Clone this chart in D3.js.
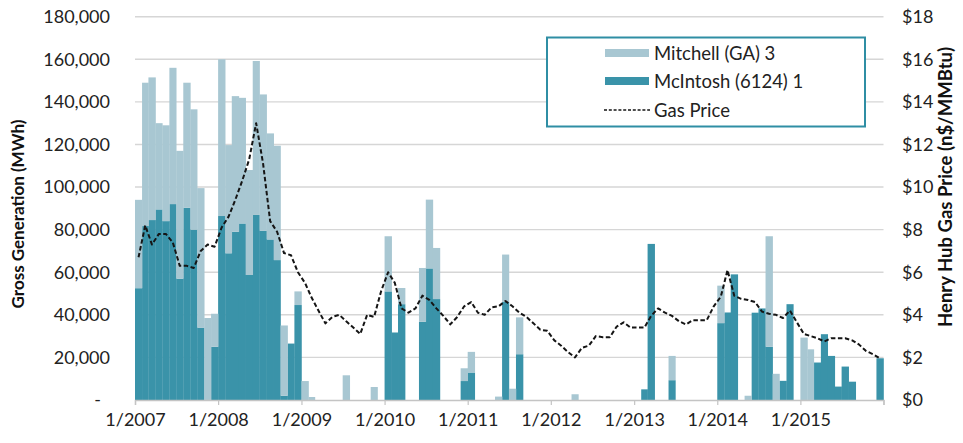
<!DOCTYPE html>
<html>
<head>
<meta charset="utf-8">
<script src="https://cdn.jsdelivr.net/npm/d3@7"></script>
<style>
  html, body { margin: 0; padding: 0; background: #fff; }
  svg { display: block; font-family: Lato, "Open Sans", sans-serif; }
</style>
</head>
<body>
<svg id="chart" width="963" height="443"></svg>
<script>
// Monthly values, Jan 2007 – Dec 2015 (one row per year)
const years = [2007, 2008, 2009, 2010, 2011, 2012, 2013, 2014, 2015];

// McIntosh (6124) 1 gross generation, MWh
const mcintosh = [
  52500, 81700, 84500, 89500, 84000, 92000, 57000, 90300, 80000, 34000, 0, 25000,
  86400, 68900, 79000, 82900, 58700, 86900, 79500, 75400, 65700, 2000, 26500, 44600,
  0, 0, 0, 0, 0, 0, 0, 0, 0, 0, 0, 0,
  51000, 31700, 45000, 0, 0, 36700, 61800, 47400, 0, 0, 0, 8900,
  12900, 0, 0, 0, 0, 46100, 0, 21500, 0, 0, 0, 0,
  0, 0, 0, 0, 0, 0, 0, 0, 0, 0, 0, 0,
  0, 5000, 73300, 0, 0, 9300, 0, 0, 0, 0, 0, 0,
  36100, 41100, 59000, 0, 0, 41000, 43000, 25000, 0, 9000, 45000, 0,
  0, 0, 17600, 30900, 20700, 6300, 15700, 8600, 0, 0, 0, 19600
];

// Mitchell (GA) 3 gross generation, MWh
const mitchell = [
  41500, 67300, 67000, 40500, 45000, 64000, 60000, 58700, 56500, 65500, 38500, 15500,
  73600, 50800, 63700, 59000, 49300, 72300, 64000, 49800, 53700, 33000, 0, 6400,
  8900, 1400, 0, 0, 0, 0, 11600, 0, 0, 0, 6100, 0,
  25900, 0, 7600, 0, 0, 25300, 32300, 24000, 0, 0, 0, 6000,
  9700, 0, 0, 0, 1600, 22200, 5300, 17300, 0, 0, 0, 0,
  0, 0, 0, 2700, 0, 0, 0, 0, 0, 0, 0, 0,
  0, 0, 0, 0, 0, 11400, 0, 0, 0, 0, 0, 0,
  17600, 0, 0, 0, 2000, 0, 0, 51900, 12300, 0, 0, 0,
  29300, 23800, 0, 0, 0, 0, 0, 0, 0, 0, 0, 0
];

// Henry Hub gas price, nominal $/MMBtu
const gasPrice = [
  6.7, 8.2, 7.3, 7.8, 7.8, 7.4, 6.3, 6.3, 6.2, 7.0, 7.3, 7.2,
  8.1, 8.6, 9.4, 10.3, 11.3, 13.0, 11.1, 8.4, 7.9, 6.9, 6.8, 6.0,
  5.5, 4.8, 4.2, 3.6, 3.9, 4.0, 3.7, 3.4, 3.1, 4.0, 3.9, 5.1,
  6.0, 5.5, 4.3, 4.1, 4.3, 4.9, 4.7, 4.3, 3.95, 3.55, 3.9, 4.4,
  4.6, 4.1, 4.0, 4.35, 4.4, 4.65, 4.4, 4.1, 3.9, 3.6, 3.3, 3.25,
  2.8, 2.55, 2.25, 2.0, 2.45, 2.55, 3.0, 2.95, 2.95, 3.45, 3.65, 3.4,
  3.4, 3.4, 3.95, 4.3, 4.1, 3.95, 3.7, 3.55, 3.75, 3.75, 3.75, 4.4,
  4.85, 6.1, 4.9, 4.75, 4.7, 4.6, 4.15, 4.05, 4.0, 3.85, 4.2, 3.65,
  3.1, 3.0, 2.9, 2.75, 2.9, 2.9, 2.9, 2.8, 2.6, 2.3, 2.15, 1.95
];

const genTicks = [0, 20000, 40000, 60000, 80000, 100000, 120000, 140000, 160000, 180000];
const priceTicks = [0, 2, 4, 6, 8, 10, 12, 14, 16, 18];
const seriesNames = ["Mitchell (GA) 3", "McIntosh (6124) 1", "Gas Price"];

const colors = { mitchell: "#a8c7d2", mcintosh: "#3a93a9", legendBorder: "#2f8ea4" };

// Build the monthly table
const months = d3.range(mcintosh.length).map(i => ({
  date: new Date(years[0], i, 1),
  end: new Date(years[0], i + 1, 1),
  mcintosh: mcintosh[i],
  mitchell: mitchell[i],
  price: gasPrice[i]
}));

const svg = d3.select("#chart");
const plot = { left: 135, right: 883.5, top: 16.7, bottom: 400 };

const x = d3.scaleTime()
  .domain([new Date(years[0], 0, 1), new Date(years[years.length - 1] + 1, 0, 1)])
  .range([plot.left, plot.right]);
const yGen = d3.scaleLinear().domain([0, 180000]).range([plot.bottom, plot.top]);
const yPrice = d3.scaleLinear().domain([0, 18]).range([plot.bottom, plot.top]);

// Horizontal gridlines
svg.append("g")
  .selectAll("line")
  .data(genTicks.slice(1))
  .join("line")
  .attr("x1", plot.left).attr("x2", plot.right)
  .attr("y1", d => yGen(d)).attr("y2", d => yGen(d))
  .attr("stroke", "#d6d6d6").attr("stroke-width", 1.4);

// Stacked bars: McIntosh at the base, Mitchell on top
const stack = d3.stack().keys(["mcintosh", "mitchell"]);
const layers = stack(months);
svg.append("g")
  .selectAll("g")
  .data(layers)
  .join("g")
  .attr("fill", d => colors[d.key])
  .selectAll("rect")
  .data(d => d.filter(s => s[1] > s[0]))
  .join("rect")
  .attr("x", d => x(d.data.date))
  .attr("width", d => x(d.data.end) - x(d.data.date) + 0.3)
  .attr("y", d => yGen(d[1]))
  .attr("height", d => yGen(d[0]) - yGen(d[1]));

// Bottom axis
const xAxis = d3.axisBottom(x)
  .tickValues(d3.range(years[0], years[years.length - 1] + 2).map(yy => new Date(yy, 0, 1)))
  .tickSize(5)
  .tickPadding(8)
  .tickFormat(d => d.getFullYear() <= years[years.length - 1] ? d3.timeFormat("1/%Y")(d) : "");
const gx = svg.append("g").attr("transform", `translate(0,${plot.bottom})`).call(xAxis);
gx.select(".domain").attr("stroke", "#c4c4c4").attr("stroke-width", 1.4);
gx.selectAll(".tick line").attr("stroke", "#c4c4c4").attr("stroke-width", 1.2);
gx.selectAll(".tick text")
  .attr("font-size", 18).attr("fill", "#222").attr("font-family", "Lato, sans-serif");

// Left axis labels
const fmtGen = d => d === 0 ? "-" : d3.format(",")(d);
svg.append("g")
  .selectAll("text")
  .data(genTicks)
  .join("text")
  .attr("x", d => d === 0 ? 101 : 110)
  .attr("y", d => yGen(d))
  .attr("dy", "0.35em")
  .attr("text-anchor", "end")
  .attr("font-size", 18)
  .attr("fill", "#222")
  .text(fmtGen);

// Right axis labels
svg.append("g")
  .selectAll("text")
  .data(priceTicks)
  .join("text")
  .attr("x", 902)
  .attr("y", d => yPrice(d))
  .attr("dy", "0.35em")
  .attr("text-anchor", "start")
  .attr("font-size", 18)
  .attr("fill", "#222")
  .text(d => "$" + d);

// Axis titles
svg.append("text")
  .attr("transform", "translate(24,214) rotate(-90)")
  .attr("text-anchor", "middle")
  .attr("font-size", 17)
  .attr("font-weight", "bold")
  .attr("fill", "#111")
  .text("Gross Generation (MWh)");
svg.append("text")
  .attr("transform", "translate(952,187) rotate(-90)")
  .attr("text-anchor", "middle")
  .attr("font-size", 18.5)
  .attr("font-weight", "bold")
  .attr("fill", "#111")
  .text("Henry Hub Gas Price (n$/MMBtu)");

// Gas price line, one point per month at the bar centre
const line = d3.line()
  .x(d => x(d.date) + (x(d.end) - x(d.date)) / 2)
  .y(d => yPrice(d.price));
svg.append("path")
  .datum(months)
  .attr("fill", "none")
  .attr("stroke", "#151515")
  .attr("stroke-width", 2)
  .attr("stroke-linejoin", "round")
  .attr("stroke-dasharray", "4.5,2.5")
  .attr("d", line);

// Legend
const lg = svg.append("g");
lg.append("rect")
  .attr("x", 547).attr("y", 37.5).attr("width", 318).attr("height", 89)
  .attr("fill", "#fff").attr("stroke", colors.legendBorder).attr("stroke-width", 2);
const items = [
  { name: seriesNames[0], type: "bar", color: colors.mitchell, y: 53 },
  { name: seriesNames[1], type: "bar", color: colors.mcintosh, y: 81 },
  { name: seriesNames[2], type: "line", color: "#151515", y: 110 }
];
items.forEach(it => {
  if (it.type === "bar") {
    lg.append("rect").attr("x", 605).attr("y", it.y - 4).attr("width", 44).attr("height", 8)
      .attr("fill", it.color);
  } else {
    lg.append("line").attr("x1", 604).attr("x2", 650).attr("y1", it.y).attr("y2", it.y)
      .attr("stroke", it.color).attr("stroke-width", 1.5).attr("stroke-dasharray", "3,1.8");
  }
  lg.append("text").attr("x", 654).attr("y", it.y).attr("dy", "0.36em")
    .attr("font-size", 18.5).attr("fill", "#222").text(it.name);
});
</script>
</body>
</html>
